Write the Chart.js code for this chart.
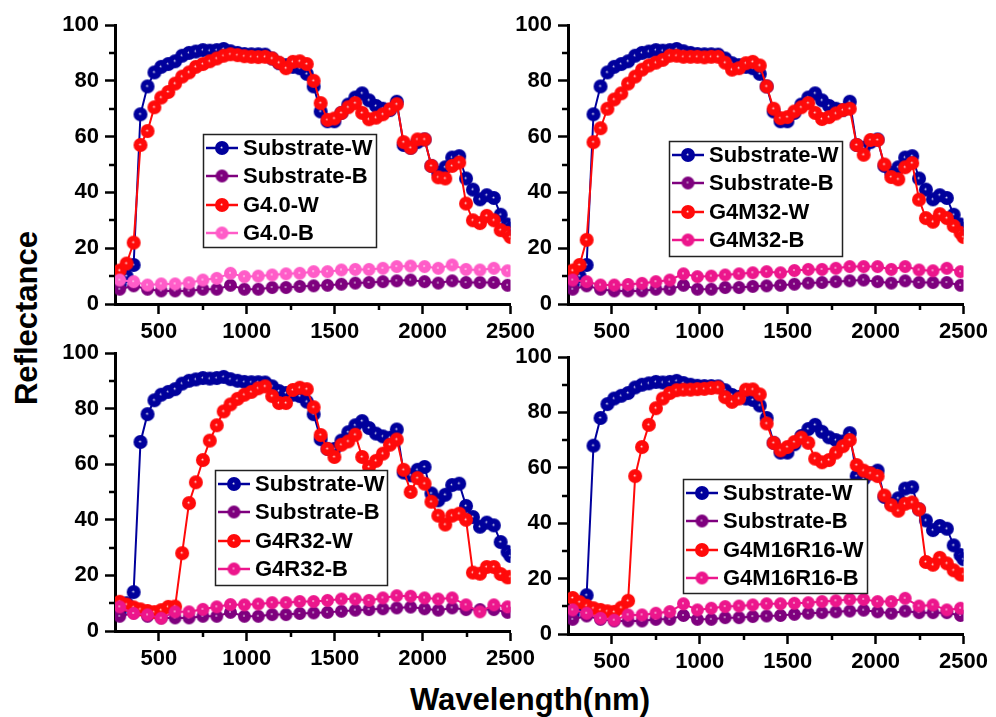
<!DOCTYPE html>
<html>
<head>
<meta charset="utf-8">
<script src="https://cdn.jsdelivr.net/npm/chart.js@4.4.1/dist/chart.umd.min.js"></script>
<style>
 html,body{margin:0;padding:0;background:#fff}
 #wrap{position:relative;width:996px;height:717px;overflow:hidden;background:#fff}
 canvas{position:absolute}
 .ttl{position:absolute;font:bold 31px 'Liberation Sans',Arial,sans-serif;color:#000;line-height:31px;white-space:nowrap}
</style>
</head>
<body>
<div id="wrap">
 <canvas id="c1" width="490" height="345" style="left:50px;top:0px"></canvas>
 <canvas id="c2" width="490" height="345" style="left:503px;top:0px"></canvas>
 <canvas id="c3" width="490" height="344" style="left:50px;top:328px"></canvas>
 <canvas id="c4" width="490" height="343" style="left:503px;top:332px"></canvas>
 <div class="ttl" style="left:26px;top:318px;transform:translate(-50%,-50%) rotate(-90deg)">Reflectance</div>
 <div class="ttl" style="left:530px;top:684px;transform:translateX(-50%)">Wavelength(nm)</div>
</div>
<script>
/* ===== DATA ===== */

// wavelengths (nm) of the W curves and of the B curves
const wlW=[277,316,356,395,435,474,513,553,592,632,671,710,750,789,829,868,907,947,986,1026,
 1065,1104,1144,1183,1223,1262,1301,1341,1380,1420,1459,1498,1538,1577,1617,1656,1695,1735,1774,1814,
 1853,1892,1932,1971,2011,2050,2089,2129,2168,2208,2247,2286,2326,2365,2405,2444,2483,2500]
const wlB=[277,356,435,513,592,671,750,829,907,986,1065,1144,1223,1301,1380,1459,1538,1617,1695,1774,
 1853,1932,2011,2089,2168,2247,2326,2405,2483]

const subW=[7,10,14,68,78,83,85,86,87,89,90,90.5,91,90.8,91,91.4,90.6,90,89.6,89.5,
 89.5,89.4,88,86.3,85.6,85,84.5,82.5,78,69,65.5,65.5,68.5,71.5,74,75.5,73,71,70,69.5,
 72.5,57,56,58,59,49.5,47,49,52.5,53,45,41,37.5,39,38,32,28.5,27]
const subB=[5.3,6.5,5.3,4.7,4.7,4.7,5.3,5.3,6.7,5.3,5.3,5.9,5.9,6.3,6.5,6.7,7.1,7.5,7.7,8.0,
 8.3,8.6,8.0,7.5,8.3,7.7,7.7,7.7,6.7]

const g40W=[12,14.5,22,57,62,70.5,74,76,79,81.5,83,85,86,87,88,89,89.5,89.2,88.8,88.6,
 88.5,88.6,88,86.5,84.5,86.8,87,86,80,72,66,66.5,68.5,70.5,72,68.5,66.2,66.8,68,69.8,
 71.6,58,56,59,59,49.5,45.4,45,49.5,50.7,36,30,29,31.6,30,26.5,25.5,24]
const g40B=[8.6,8.0,6.8,7.2,7.2,7.6,8.6,9.2,11.0,9.8,10.0,10.4,10.8,11.0,11.6,11.6,12.2,12.4,12.4,12.8,
 13.4,13.6,13.4,12.8,14.0,12.4,12.2,12.8,11.9]

const g4m32W=[12,14,23,58,63,70,73.3,75.5,79,81.5,84,85.5,86.5,87.5,89,89,88.6,88.6,88.6,88.4,
 88.6,88.6,86.5,84,84.5,86.3,86.8,85.5,78,70,66.6,67,69,70.5,72,68.5,66.3,67,68.3,69.5,
 70,57,53.5,58.8,58.8,50,45.5,44.7,49,50.5,37.4,30.8,29.5,32.2,30.8,28,25.5,24]
const g4m32B=[8.6,8.0,6.8,6.8,7.0,7.4,8.0,8.6,10.8,9.8,10.0,10.4,10.8,11.2,11.6,11.2,12.0,12.4,12.4,12.8,
 13.4,13.4,13.4,12.4,13.4,12.2,11.9,12.8,11.6]

const g4r32W=[10.5,9.5,8.5,7.8,7.2,6.8,7.5,8.7,8.8,28,46,53.5,61.5,68.5,74,79,81.5,83.5,85,86,
 87.3,88,84.5,82,82,86.7,87.5,87,80.5,70.5,65.5,62.6,67,68.2,70.6,62.6,59,61.2,63.8,67,
 68.9,58,50,55,53,46.5,41.5,38.3,41.5,42.2,40,21,20.6,23,23,20.5,19.3,19.5]
const g4r32B=[8.7,6.3,5.8,4.6,6.9,6.9,7.8,8.7,9.5,9.4,9.7,10.2,10.2,10.6,10.6,11.0,11.5,11.5,11.0,11.9,
 12.7,12.5,11.9,11.5,11.9,9.4,6.9,9.4,8.7]

const g4m16r16W=[13,11.5,10.2,9.3,8.7,8.2,8,9.5,12,57,67.5,75.5,81.5,85,87,88,88.2,88.2,88.4,88.5,
 88.8,89,85.5,83.8,85,88.2,88.3,86.5,76,69,66.3,67.5,69.3,70.9,69,63.3,62,62.8,65.5,67.8,
 70,61,59,58,57,50,46.5,44.5,47,47.5,45,26,25,27.5,25.5,23,21.5,21.5]
const g4m16r16B=[8.7,7.5,5.7,5.0,6.9,6.9,7.5,8.1,10.9,8.7,9.3,9.9,10.1,10.5,10.9,10.9,11.1,11.3,11.7,12.0,
 12.5,12.5,11.7,11.7,12.9,10.1,10.5,8.7,9.3]

const sampleNames=["G4.0","G4M32","G4R32","G4M16R16"]
const xTicks=[500,1000,1500,2000,2500]
const xMinor=[750,1250,1750,2250]
const yTicks=[0,20,40,60,80,100]
const yMinor=[10,30,50,70,90]

/* ===== STYLE ===== */

const FONT="'Liberation Sans',Arial,sans-serif"
const NAVY="#00009C", PURPLE="#7E007E", RED="#FF0A0A"

function dot(color,r){
 const c=document.createElement("canvas")
 const s=Math.ceil(2*r+2)
 c.width=c.height=s
 const g=c.getContext("2d")
 const m=s/2
 const grd=g.createRadialGradient(m-0.5,m-0.5,0,m,m,r)
 grd.addColorStop(0,"rgba(255,255,255,0.85)")
 grd.addColorStop(0.22,color)
 grd.addColorStop(1,color)
 g.fillStyle=grd
 g.beginPath();g.arc(m,m,r,0,Math.PI*2);g.fill()
 return c
}

/* ===== PLUGINS ===== */

const minorTicks={
 id:"minorTicks",
 afterDraw(chart){
  const {ctx,chartArea:a,scales:{x,y}}=chart
  ctx.save()
  ctx.strokeStyle="#000";ctx.lineWidth=2.5
  ctx.beginPath()
  xMinor.forEach(v=>{const p=Math.round(x.getPixelForValue(v));ctx.moveTo(p,a.bottom);ctx.lineTo(p,a.bottom+6)})
  yMinor.forEach(v=>{const p=Math.round(y.getPixelForValue(v));ctx.moveTo(a.left,p);ctx.lineTo(a.left-6,p)})
  ctx.stroke()
  ctx.restore()
 }
}

const boxLegend={
 id:"boxLegend",
 afterDatasetsDraw(chart,args,o){
  const {ctx,chartArea:a}=chart
  const L=o.box
  const x=a.left+L.x, y=a.top+L.y
  ctx.save()
  ctx.fillStyle="#fff";ctx.fillRect(x,y,L.w,L.h)
  ctx.strokeStyle="#222";ctx.lineWidth=1.5;ctx.strokeRect(x+0.5,y+0.5,L.w,L.h)
  ctx.font="bold 22px "+FONT
  ctx.textBaseline="middle";ctx.fillStyle="#000"
  chart.data.datasets.forEach((d,i)=>{
   const cy=Math.round(y+14+i*28.4)
   ctx.strokeStyle=d.borderColor;ctx.lineWidth=2.5
   ctx.beginPath();ctx.moveTo(x+3,cy);ctx.lineTo(x+35,cy);ctx.stroke()
   const im=d.pointStyle
   ctx.drawImage(im,x+19-im.width/2,cy-im.height/2)
   ctx.fillText(d.label,x+40,cy+1)
  })
  ctx.restore()
 }
}

/* ===== CHARTS ===== */

function series(label,xs,ys,color,r,order){
 return {
  label,
  data:xs.map((v,i)=>({x:v,y:ys[i]})),
  borderColor:color,backgroundColor:color,
  borderWidth:2,tension:0,
  pointStyle:dot(color,r),pointRadius:r,
  order
 }
}

function axisFont(){return {family:FONT,size:22,weight:"bold"}}

function makePanel(id,name,wArr,bArr,pink,box){
 new Chart(document.getElementById(id),{
  type:"line",
  data:{datasets:[
   series("Substrate-W",wlW,subW,NAVY,7,3),
   series("Substrate-B",wlB,subB,PURPLE,6.5,2),
   series(name+"-W",wlW,wArr,RED,7,1),
   series(name+"-B",wlB,bArr,pink,6.5,0)
  ]},
  options:{
   responsive:false,animation:false,devicePixelRatio:1,
   layout:{padding:{left:0,right:27,top:25,bottom:0}},
   plugins:{legend:{display:false},tooltip:{enabled:false},boxLegend:{box}},
   scales:{
    x:{
     type:"linear",min:250,max:2500,
     afterBuildTicks:s=>{s.ticks=xTicks.map(v=>({value:v}))},
     afterFit:s=>{s.height=41},
     grid:{drawOnChartArea:false,drawTicks:true,tickLength:10,tickWidth:2.5,tickColor:"#000",color:"#000"},
     border:{display:true,color:"#000",width:3},
     ticks:{font:axisFont(),color:"#000",padding:5,maxRotation:0,autoSkip:false,callback:v=>String(v)}
    },
    y:{
     min:0,max:100,
     afterBuildTicks:s=>{s.ticks=yTicks.map(v=>({value:v}))},
     afterFit:s=>{s.width=65},
     grid:{drawOnChartArea:false,drawTicks:true,tickLength:10,tickWidth:2.5,tickColor:"#000",color:"#000"},
     border:{display:true,color:"#000",width:3},
     ticks:{font:axisFont(),color:"#000",padding:6,callback:v=>String(v)}
    }
   }
  },
  plugins:[minorTicks,boxLegend]
 })
}

makePanel("c1",sampleNames[0],g40W,g40B,"#FF5CC8",{x:88,y:109,w:173,h:113})
makePanel("c2",sampleNames[1],g4m32W,g4m32B,"#EC168C",{x:101,y:116,w:173,h:115})
makePanel("c3",sampleNames[2],g4r32W,g4r32B,"#EC168C",{x:100,y:117,w:172,h:115})
makePanel("c4",sampleNames[3],g4m16r16W,g4m16r16B,"#EC168C",{x:115,y:122,w:184,h:114})
</script>
</body>
</html>
